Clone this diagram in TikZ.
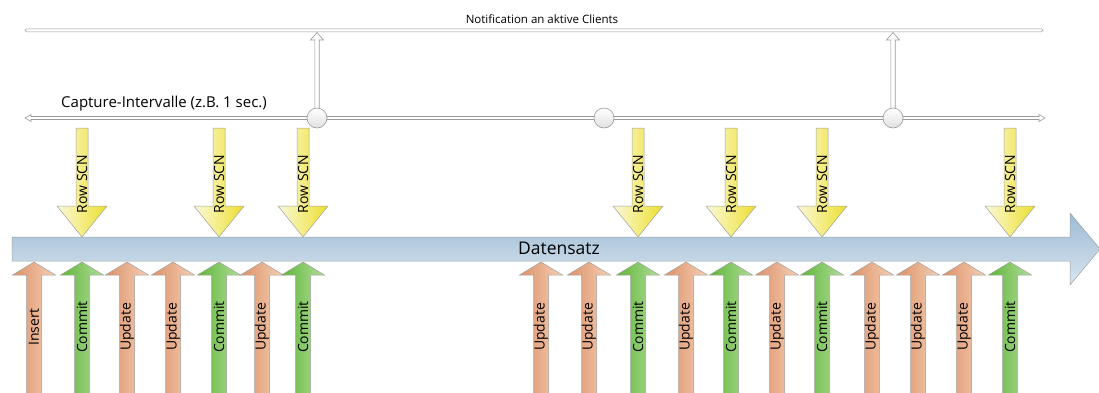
\documentclass[tikz,border=0pt]{standalone}
\usepackage{fontspec}
\setmainfont{Open Sans}
\definecolor{lineg}{HTML}{9A9A9A}
\definecolor{shapeg}{HTML}{A0A0A0}
\definecolor{bandT}{HTML}{9DBBD5}
\definecolor{bandB}{HTML}{D8E5EF}
\definecolor{orL}{HTML}{DC9068}
\definecolor{orM}{HTML}{E6A47C}
\definecolor{orR}{HTML}{F5D0B5}
\definecolor{grL}{HTML}{5EB638}
\definecolor{grM}{HTML}{6CBF47}
\definecolor{grR}{HTML}{B3DD9A}
\definecolor{yeL}{HTML}{FBF9DA}
\definecolor{yeM}{HTML}{EEE880}
\definecolor{yeR}{HTML}{ECDF2C}
\tikzset{
  outl/.style={draw=shapeg, line width=0.5pt},
  orangefill/.style={outl, left color=orL, middle color=orM, right color=orR},
  greenfill/.style={outl, left color=grL, middle color=grM, right color=grR},
  yellowfill/.style={outl, left color=yeL, middle color=yeM, right color=yeR},
  bandfill/.style={outl, top color=bandT, bottom color=bandB},
  thinline/.style={draw=lineg, fill=white, line width=0.6pt},
  knot/.style={circle, draw=lineg, line width=0.6pt, minimum size=20pt, inner sep=0pt, top color=white, bottom color=black!12},
  lbl/.style={rotate=90, inner sep=0pt, font=\fontsize{14}{16}\selectfont},
}
% bottom arrow: #1 x, #2 style, #3 text, #4 name
\newcommand\botArrow[4]{%
  \path[#2] (#1-7.5,400) -- (#1-7.5,275) -- (#1-21.5,275) -- (#1,262) -- (#1+21.5,275) -- (#1+7.5,275) -- (#1+7.5,400) -- cycle;
  \node[lbl] (#4) at (#1,327) {#3};
}
% Row SCN arrow
\newcommand\scnArrow[2]{%
  \path[yellowfill] (#1-6,128) -- (#1-6,206) -- (#1-25,206) -- (#1,237) -- (#1+25,206) -- (#1+6,206) -- (#1+6,128) -- cycle;
  \node[lbl] (#2) at (#1,184) {Row SCN};
}
% notification arrow (hollow, upward)
\newcommand\notArrow[2]{%
  \path[thinline] (#1-2.2,#2) -- (#1-2.2,40) -- (#1-6.5,40) -- (#1,32.5) -- (#1+6.5,40) -- (#1+2.2,40) -- (#1+2.2,#2) -- cycle;
}
\begin{document}
\begin{tikzpicture}[x=1pt,y=-1pt]
\useasboundingbox (0,0) rectangle (1099,392);
\clip (0,0) rectangle (1099,392);
% top notification line
\path[thinline, rounded corners=1.5pt] (25,28.8) rectangle (1043,31.8);
\node[font=\fontsize{11.5}{13}\selectfont, inner sep=0pt] (notif) at (542,19) {Notification an aktive Clients};
% capture line with arrow ends
\path[thinline] (25,118) -- (31,114.5) -- (31,116.5) -- (1039,116.5) -- (1039,114.5) -- (1045,118) -- (1039,121.5) -- (1039,119.5) -- (31,119.5) -- (31,121.5) -- cycle;
\node[font=\fontsize{15}{17}\selectfont, anchor=west, inner sep=0pt] (capt) at (61,104) {Capture-Intervalle (z.B. 1 sec.)};
% notification arrows
\notArrow{317}{110}
\notArrow{893}{110}
% circles
\node[knot] (c1) at (317,118) {};
\node[knot] (c2) at (604,118) {};
\node[knot] (c3) at (893,118) {};
% data band
\path[bandfill] (12,237) -- (1070,237) -- (1070,213) -- (1100,249) -- (1070,285) -- (1070,261) -- (12,261) -- cycle;
\node[font=\fontsize{17.5}{20}\selectfont, inner sep=0pt] (ds) at (559,248) {Datensatz};
% Row SCN arrows
\scnArrow{82}{s1}
\scnArrow{219}{s2}
\scnArrow{303}{s3}
\scnArrow{638}{s4}
\scnArrow{731}{s5}
\scnArrow{822}{s6}
\scnArrow{1010}{s7}
% bottom arrows
\botArrow{34}{orangefill}{Insert}{b1}
\botArrow{82}{greenfill}{Commit}{b2}
\botArrow{127}{orangefill}{Update}{b3}
\botArrow{173}{orangefill}{Update}{b4}
\botArrow{219}{greenfill}{Commit}{b5}
\botArrow{262}{orangefill}{Update}{b6}
\botArrow{303}{greenfill}{Commit}{b7}
\botArrow{541}{orangefill}{Update}{b8}
\botArrow{589}{orangefill}{Update}{b9}
\botArrow{638}{greenfill}{Commit}{b10}
\botArrow{686}{orangefill}{Update}{b11}
\botArrow{731}{greenfill}{Commit}{b12}
\botArrow{777}{orangefill}{Update}{b13}
\botArrow{822}{greenfill}{Commit}{b14}
\botArrow{872}{orangefill}{Update}{b15}
\botArrow{918}{orangefill}{Update}{b16}
\botArrow{964}{orangefill}{Update}{b17}
\botArrow{1010}{greenfill}{Commit}{b18}
\end{tikzpicture}
\end{document}
